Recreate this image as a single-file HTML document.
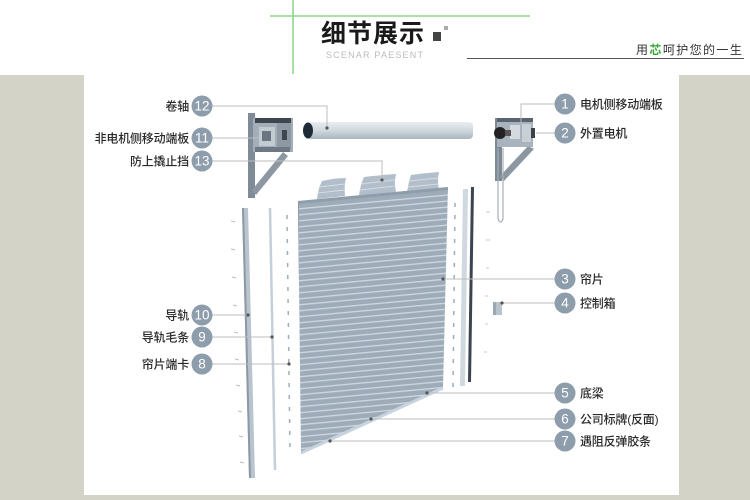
<!DOCTYPE html>
<html><head><meta charset="utf-8"><style>
html,body{margin:0;padding:0;background:#fff;}
svg{display:block;}
.l{font-family:"Liberation Sans","Noto Sans CJK SC",sans-serif;font-size:12px;fill:#2a2a2a;letter-spacing:-0.2px;font-weight:500;}
.n{font-family:"Liberation Sans",sans-serif;font-size:13.5px;fill:#fff;text-anchor:middle;}
.c{fill:#8e9dac;}
.ln{stroke:#bdbdbd;stroke-width:1;fill:none;}
.d{fill:#555;}
</style></head><body>
<svg width="750" height="500" viewBox="0 0 750 500" xmlns="http://www.w3.org/2000/svg">
<defs>
<linearGradient id="tube" x1="0" y1="0" x2="0" y2="1">
<stop offset="0" stop-color="#e8edf1"/><stop offset="0.5" stop-color="#d0d8de"/><stop offset="1" stop-color="#aab5bf"/>
</linearGradient>
<clipPath id="cur"><polygon points="298,201 448,187 443,388 301,453"/></clipPath>
<pattern id="slat" x="0" y="0" width="165" height="6" patternUnits="userSpaceOnUse">
<rect x="0" y="0" width="165" height="6" fill="#9eacba"/>
<rect x="0" y="2" width="165" height="1.3" fill="#d0d8e0"/>
</pattern>
</defs>
<rect x="0" y="75" width="750" height="425" fill="#d3d3c7"/>
<rect x="84" y="75" width="595" height="420" fill="#fff"/>

<line x1="270" y1="16" x2="530" y2="16" stroke="#8fd68a" stroke-width="1.6"/>
<line x1="293" y1="0" x2="293" y2="74" stroke="#8fd68a" stroke-width="1.6"/>
<text x="321" y="42" font-family="Liberation Sans,'Noto Sans CJK SC',sans-serif" font-size="25" font-weight="bold" fill="#1a1a1a" letter-spacing="1">细节展示</text>
<rect x="433" y="32" width="8" height="9" fill="#444"/>
<rect x="444" y="26" width="4" height="4" fill="#aaa"/>
<text x="326" y="58" font-family="Liberation Sans,sans-serif" font-size="9" fill="#bbb" letter-spacing="1.2">SCENAR PAESENT</text>
<text x="636" y="54" font-family="Liberation Sans,'Noto Sans CJK SC',sans-serif" font-size="12" fill="#333" letter-spacing="1.4">用<tspan fill="#3aa63a" font-weight="bold">芯</tspan>呵护您的一生</text>
<line x1="467" y1="58.5" x2="744" y2="58.5" stroke="#555" stroke-width="1"/>

<rect x="248" y="113" width="7" height="85" fill="#7f8b97"/>
<polygon points="252,190 256,195 288,156 283,152" fill="#8c97a2"/>
<rect x="253" y="118" width="40" height="34" fill="#a4aeb8"/>
<rect x="255" y="118" width="36" height="5" fill="#3e4650"/>
<rect x="259" y="127" width="16" height="19" fill="#c3cbd2"/>
<rect x="262" y="131" width="9" height="10" fill="#6b7580"/>
<rect x="277" y="123" width="14" height="26" fill="#8f99a4"/>
<rect x="282" y="130" width="5" height="10" fill="#3e4650"/>
<rect x="255" y="147" width="35" height="5" fill="#6e7882"/>

<rect x="307" y="122" width="166" height="17" rx="4" fill="url(#tube)"/>
<ellipse cx="308" cy="130.5" rx="5" ry="8" fill="#1e2a35"/>

<rect x="495" y="118" width="7" height="63" fill="#7d8995"/>
<polygon points="500,176 504,181 534,149 528,146" fill="#8c97a2"/>
<rect x="497" y="118" width="36" height="29" fill="#a9b3bd"/>
<rect x="497" y="118" width="36" height="4" fill="#5a646e"/>
<rect x="510" y="125" width="10" height="14" fill="#d4dade"/>
<rect x="522" y="124" width="9" height="18" fill="#c8cfd5"/>
<rect x="531" y="128" width="4" height="10" fill="#3a424a"/>
<circle cx="500" cy="133" r="6" fill="#222"/>
<rect x="505" y="130" width="6" height="6" fill="#555"/>
<path d="M498,148 V219 Q500.5,225 503,219 V148" fill="none" stroke="#a5afb9" stroke-width="1.2"/>

<path d="M317,199 Q318,189 322,181 Q334,178 346,178 Q344,186 345,196 Z" fill="#b2beca"/>
<path d="M359,196 Q360,186 364,177 Q380,175 396,174 Q394,183 396,192 Z" fill="#b2beca"/>
<path d="M407,193 Q408,184 411,175 Q425,173 439,172 Q437,181 439,190 Z" fill="#b2beca"/>
<g stroke="#d6dde4" stroke-width="1">
<line x1="319" y1="187" x2="345" y2="184"/><line x1="318" y1="193" x2="345" y2="190"/>
<line x1="361" y1="184" x2="395" y2="180"/><line x1="360" y1="190" x2="395" y2="186"/>
<line x1="409" y1="181" x2="438" y2="178"/><line x1="408" y1="187" x2="438" y2="184"/>
</g>

<g clip-path="url(#cur)">
<g transform="translate(290,201) skewY(-5.3)">
<rect x="0" y="-20" width="165" height="290" fill="url(#slat)"/>
</g>
<rect x="296" y="190" width="3" height="270" fill="#8896a4"/>
<polygon points="298,201 448,187 448,190 298,204" fill="#8f9dab"/>
</g>
<line x1="443" y1="388" x2="301" y2="453" stroke="#c7d3de" stroke-width="3"/>

<polygon points="242,208 248,208 255,478 249,478" fill="#b9c4ce"/>
<polygon points="242,208 244,208 251,478 249,478" fill="#8b98a5"/>
<g stroke="#b5bec7" stroke-width="1">
<line x1="231" y1="221" x2="235" y2="222"/><line x1="231" y1="249" x2="235" y2="250"/>
<line x1="232" y1="277" x2="236" y2="278"/><line x1="233" y1="305" x2="237" y2="306"/>
<line x1="234" y1="332" x2="238" y2="333"/><line x1="235" y1="359" x2="239" y2="360"/>
<line x1="236" y1="385" x2="240" y2="386"/><line x1="238" y1="411" x2="242" y2="412"/>
<line x1="239" y1="436" x2="243" y2="437"/><line x1="240" y1="462" x2="244" y2="463"/>
</g>
<line x1="270" y1="208" x2="275" y2="470" stroke="#c4cfd9" stroke-width="2.5"/>
<line x1="287" y1="215" x2="290" y2="452" stroke="#9eacb8" stroke-width="1.5" stroke-dasharray="4 8"/>

<line x1="455" y1="203" x2="453" y2="388" stroke="#9eacb8" stroke-width="1.5" stroke-dasharray="4 8"/>
<polygon points="463,189 468,189 465,386 460,386" fill="#d0d8e0"/>
<polygon points="471,187 474,187 471,382 468,382" fill="#3a4550"/>
<g stroke="#c5ccd3" stroke-width="1">
<line x1="486" y1="212" x2="490" y2="212"/><line x1="486" y1="240" x2="490" y2="240"/>
<line x1="486" y1="268" x2="489" y2="268"/><line x1="485" y1="296" x2="488" y2="296"/>
<line x1="485" y1="324" x2="488" y2="324"/><line x1="484" y1="352" x2="487" y2="352"/>
</g>
<rect x="493" y="302" width="9" height="13" fill="#9ba7b2"/>
<rect x="496" y="302" width="6" height="13" fill="#b9c3cc"/>

<path class="ln" d="M212,106 H327 V128"/>
<path class="ln" d="M212,138 H259"/>
<path class="ln" d="M212,161 H382 V180"/>
<path class="ln" d="M212,315 H248"/>
<path class="ln" d="M212,337 H272"/>
<path class="ln" d="M212,364 H289"/>
<path class="ln" d="M555,104 H521 V123"/>
<path class="ln" d="M555,133 H536"/>
<path class="ln" d="M555,279 H443"/>
<path class="ln" d="M555,303 H502"/>
<path class="ln" d="M555,393 H427"/>
<path class="ln" d="M555,419 H371"/>
<path class="ln" d="M555,441 H330"/>
<circle class="d" cx="327" cy="128" r="1.6"/>
<circle class="d" cx="382" cy="180" r="1.6"/>
<circle class="d" cx="248" cy="315" r="1.6"/>
<circle class="d" cx="272" cy="337" r="1.6"/>
<circle class="d" cx="289" cy="364" r="1.6"/>
<circle class="d" cx="443" cy="279" r="1.6"/>
<circle class="d" cx="502" cy="303" r="1.6"/>
<circle class="d" cx="427" cy="393" r="1.6"/>
<circle class="d" cx="371" cy="419" r="1.6"/>
<circle class="d" cx="330" cy="441" r="1.6"/>

<circle class="c" cx="202" cy="106" r="10.5"/><text class="n" x="202" y="110.7">12</text>
<circle class="c" cx="202" cy="138" r="10.5"/><text class="n" x="202" y="142.7">11</text>
<circle class="c" cx="202" cy="161" r="10.5"/><text class="n" x="202" y="165.7">13</text>
<circle class="c" cx="202" cy="315" r="10.5"/><text class="n" x="202" y="319.7">10</text>
<circle class="c" cx="202" cy="337" r="10.5"/><text class="n" x="202" y="341.7">9</text>
<circle class="c" cx="202" cy="364" r="10.5"/><text class="n" x="202" y="368.7">8</text>
<text class="l" x="189" y="110.5" text-anchor="end">卷轴</text>
<text class="l" x="189" y="142.5" text-anchor="end">非电机侧移动端板</text>
<text class="l" x="189" y="165.5" text-anchor="end">防上撬止挡</text>
<text class="l" x="189" y="319.5" text-anchor="end">导轨</text>
<text class="l" x="189" y="341.5" text-anchor="end">导轨毛条</text>
<text class="l" x="189" y="368.5" text-anchor="end">帘片端卡</text>

<circle class="c" cx="565" cy="104" r="10.5"/><text class="n" x="565" y="108.7">1</text>
<circle class="c" cx="565" cy="133" r="10.5"/><text class="n" x="565" y="137.7">2</text>
<circle class="c" cx="565" cy="279" r="10.5"/><text class="n" x="565" y="283.7">3</text>
<circle class="c" cx="565" cy="303" r="10.5"/><text class="n" x="565" y="307.7">4</text>
<circle class="c" cx="565" cy="393" r="10.5"/><text class="n" x="565" y="397.7">5</text>
<circle class="c" cx="565" cy="419" r="10.5"/><text class="n" x="565" y="423.7">6</text>
<circle class="c" cx="565" cy="441" r="10.5"/><text class="n" x="565" y="445.7">7</text>
<text class="l" x="580" y="108.5">电机侧移动端板</text>
<text class="l" x="580" y="137.5">外置电机</text>
<text class="l" x="580" y="283.5">帘片</text>
<text class="l" x="580" y="307.5">控制箱</text>
<text class="l" x="580" y="397.5">底梁</text>
<text class="l" x="580" y="423.5">公司标牌(反面)</text>
<text class="l" x="580" y="445.5">遇阻反弹胶条</text>
</svg>
</body></html>
